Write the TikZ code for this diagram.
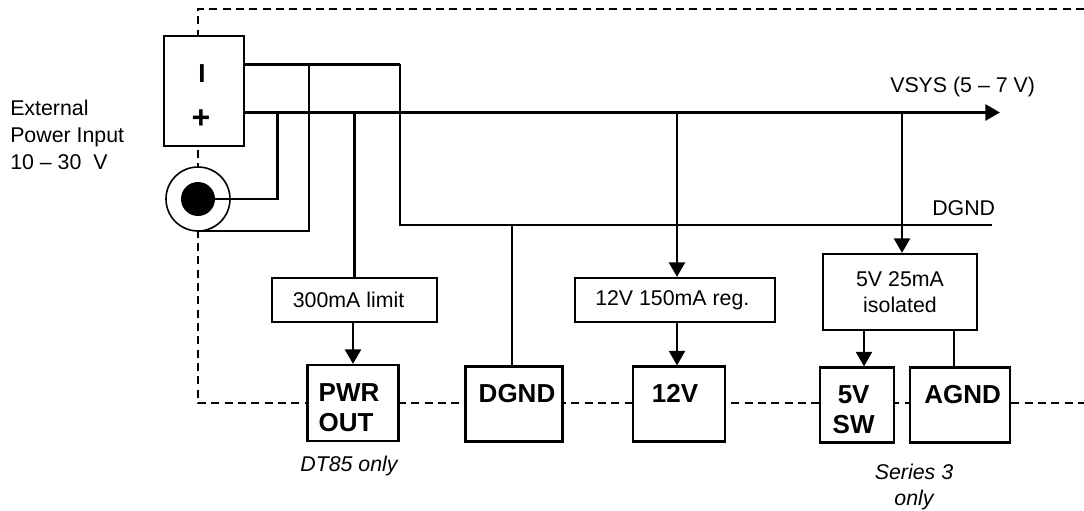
\documentclass[tikz,border=0pt]{standalone}
\usepackage{fontspec}
\setmainfont{Liberation Sans}
\usetikzlibrary{arrows.meta, positioning}
\newcommand{\lift}{\rule{0pt}{20.5pt}}
\tikzset{
	sized/.style 2 args={minimum width=#1*0.75pt, minimum height=#2*0.75pt},
	block/.style={rectangle, draw=black, fill=white, line width=1.6pt, align=center, inner sep=0pt, font=\fontsize{16}{19}\selectfont},
	port/.style={rectangle, draw=black, fill=white, line width=1.6pt, align=center, inner sep=0pt, font=\fontsize{19.5}{23}\bfseries\selectfont},
	note/.style={align=left, inner sep=0pt, font=\fontsize{16}{20}\selectfont},
	only/.style={align=center, inner sep=0pt, font=\fontsize{16}{19}\itshape\selectfont},
	rail/.style={line width=2pt},
	wire/.style={line width=1.6pt},
	arrow/.style={-{Triangle[length=11pt, width=12pt]}, line width=2pt},
	fence/.style={line width=1.3pt, dash pattern=on 6pt off 4pt},
}

\begin{document}
\begin{tikzpicture}[x=0.75pt, y=-0.75pt]
	\useasboundingbox (0,0) rectangle (1084,510);
	% enclosure
	\coordinate (fencestart) at (1084,9);
	\coordinate (fencetop) at (198,9);
	\coordinate (fenceleft) at (198,403);
	\coordinate (fenceend) at (1084,403);
	\draw[fence] (fencestart) -- (fencetop) -- (fenceleft) -- (fenceend);

	\node[block, sized={80}{110}] (term) at (204,91) {};
	\node[font=\fontsize{19.5}{23.5}\bfseries\selectfont] (minus) at (202,74) {I};
	\node[font=\fontsize{24}{24}\bfseries\selectfont] (plus) at (201,119) {+};
	\node[circle, draw=black, fill=white, line width=1.2pt, minimum size=48pt, inner sep=0pt] (jack) at (198,199) {};
	\node[circle, fill=black, minimum size=25.5pt, inner sep=0pt] (pin) at (198,199) {};
	\node[note, anchor=north west] (ext) at (10,100) {External\\Power Input\\10 – 30 \ V};

	\coordinate (gndtop) at (244,64.5);
	\coordinate (gndcorner) at (400,64.5);
	\coordinate (gndbend) at (400,225);
	\coordinate (gndend) at (992,225);
	\coordinate (vsystart) at (244,112.5);
	\coordinate (vsysend) at (1000,112.5);
	\coordinate (pinbend) at (277.5,199);
	\coordinate (shellbend) at (309,231);
	\coordinate (regtap) at (677,112.5);
	\coordinate (isotap) at (902,112.5);
	\coordinate (dgndtap) at (512,225);
	\coordinate (swtap) at (864,330);
	\coordinate (agndtap) at (954,330);

	\node[block, sized={165}{44}] (limit) at (354.5,300) {300mA limit\hspace*{9pt}};
	\node[block, sized={200}{44}] (reg) at (675,300) {12V 150mA reg.\hspace*{4pt}};
	\node[block, sized={154}{76}] (iso) at (900,292) {5V 25mA\\isolated};

	\node[port, sized={91}{76}, align=left] (pwrout) at (353,403) {\lift PWR\hspace*{6pt}\\OUT};
	\node[port, sized={97}{75}] (dgnd) at (514,404) {\lift\hspace*{4.5pt}DGND\\~};
	\node[port, sized={92}{75}] (twelve) at (679,404) {\lift 12V\hspace*{6pt}\\~};
	\node[port, sized={74}{75}] (fivesw) at (857,405) {\lift 5V\hspace*{5pt}\\SW\hspace*{5pt}};
	\node[port, sized={100}{75}] (agnd) at (960,405) {\lift\hspace*{4pt}AGND\\~};

	\node[note, anchor=base west] (vsyslabel) at (890,93) {VSYS (5 – 7 V)};
	\node[note, anchor=base west] (gndlabel) at (932,215) {DGND};
	\node[only, anchor=base] (dtonly) at (349,471) {DT85 only};
	\node[only] (seriesonly) at (914,487) {Series 3\\only};

	\draw[rail] (gndtop) -- (gndcorner);
	\draw[wire] (gndcorner) -- (gndbend) -- (gndend);
	\draw[arrow] (vsystart) -- (vsysend);
	\draw[wire] (pinbend |- vsystart) -- (pinbend) -- (pin.center);
	\draw[wire] (shellbend |- gndtop) -- (shellbend) -- (jack.south |- shellbend);
	\draw[wire] (limit.north |- vsystart) -- (limit.north);
	\draw[wire] (dgndtap) -- (dgndtap |- dgnd.north);
	\draw[arrow] (regtap) -- (regtap |- reg.north);
	\draw[arrow] (isotap) -- (isotap |- iso.north);
	\draw[arrow] (pwrout.north |- limit.south) -- (pwrout.north);
	\draw[arrow] (regtap |- reg.south) -- (regtap |- twelve.north);
	\draw[arrow] (swtap) -- (swtap |- fivesw.north);
	\draw[wire] (agndtap) -- (agndtap |- agnd.north);
\end{tikzpicture}
\end{document}
